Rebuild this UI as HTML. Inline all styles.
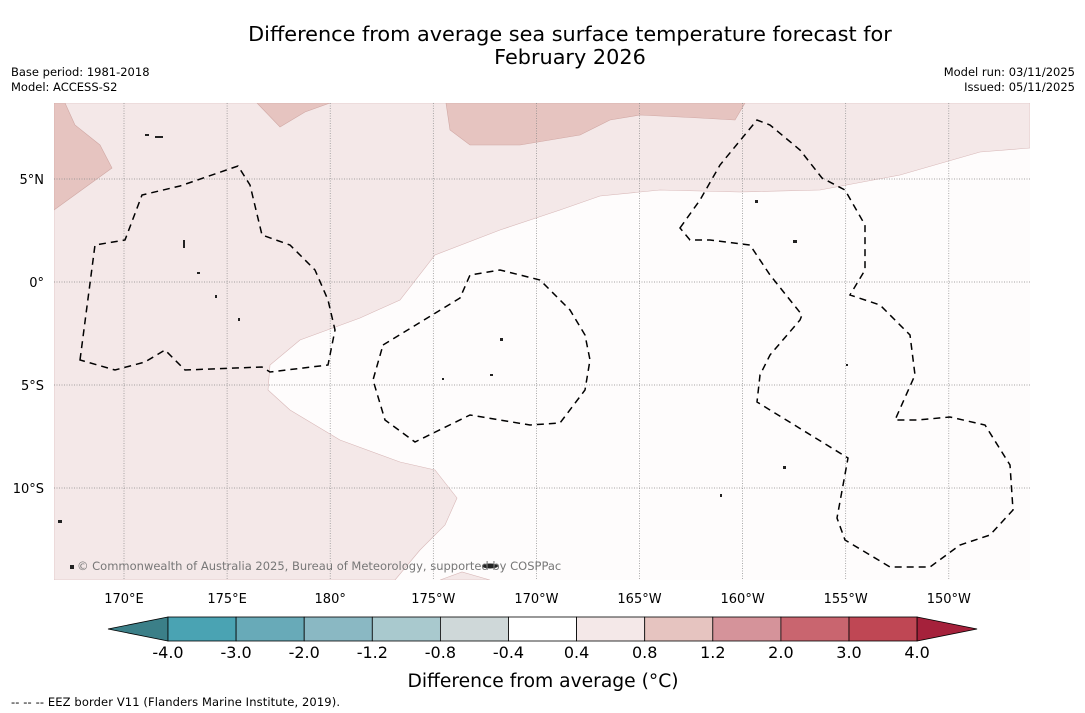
<!DOCTYPE html>
<html><head><meta charset="utf-8">
<style>
body{margin:0;background:#fff;width:1085px;height:713px;overflow:hidden;font-family:"DejaVu Sans","Liberation Sans",sans-serif;}
svg{display:block}
</style></head>
<body>
<svg id="chart" width="1085" height="713" viewBox="0 0 1085 713">
<text x="570" y="41" font-size="20.8" text-anchor="middle">Difference from average sea surface temperature forecast for</text>
<text x="570" y="64" font-size="20.8" text-anchor="middle">February 2026</text>
<text x="11" y="76" font-size="11.5">Base period: 1981-2018</text>
<text x="11" y="91" font-size="11.5">Model: ACCESS-S2</text>
<text x="1075" y="76" font-size="11.5" text-anchor="end">Model run: 03/11/2025</text>
<text x="1075" y="91" font-size="11.5" text-anchor="end">Issued: 05/11/2025</text>
<defs><clipPath id="mapclip"><rect x="54" y="103" width="976" height="477"/></clipPath></defs>
<g id="map" clip-path="url(#mapclip)">
<rect x="54" y="103" width="976" height="477" fill="#fefcfc"/>
<path fill="#f4e8e8" stroke="#d8b8b8" stroke-width="0.6" d="M54,103 L1030,103 L1030,148 L980,152 L900,175 L820,190 L740,192 L660,190 L600,196 L560,210 L500,230 L435,255 L400,300 L360,318 L300,340 L270,365 L268,390 L290,410 L340,440 L400,462 L435,470 L457,498 L445,525 L420,550 L395,580 L54,580 Z"/>
<path fill="#f4e8e8" stroke="#d8b8b8" stroke-width="0.6" d="M440,580 L462,572 L490,580 Z"/>
<path fill="#e6c4c0" stroke="#d0a8a4" stroke-width="0.6" d="M54,103 L65,103 L75,125 L100,145 L112,168 L54,210 Z"/>
<path fill="#e6c4c0" stroke="#d0a8a4" stroke-width="0.6" d="M257,103 L330,103 L305,112 L280,127 Z"/>
<path fill="#e6c4c0" stroke="#d0a8a4" stroke-width="0.6" d="M446,103 L745,103 L735,120 L700,118 L640,115 L610,120 L580,135 L520,145 L470,145 L450,130 Z"/>
<g id="grid"></g>
<g fill="none" stroke="#000" stroke-width="1.5" stroke-dasharray="7,5">
<path d="M80,360 L95,245 L125,240 L142,195 L180,186 L238,166 L250,185 L262,235 L290,245 L315,270 L328,300 L335,330 L328,365 L270,372 L262,367 L185,370 L165,350 L145,362 L115,370 Z"/>
<path d="M383,345 L460,298 L470,275 L500,270 L540,280 L570,310 L585,335 L590,360 L585,390 L560,423 L530,425 L470,415 L415,442 L385,420 L373,380 Z"/>
<path d="M680,228 L700,200 L720,165 L757,120 L770,125 L800,150 L822,178 L845,190 L865,225 L865,270 L850,295 L880,305 L910,335 L915,375 L895,420 L918,420 L950,417 L985,425 L1010,465 L1013,510 L990,535 L960,545 L930,567 L890,567 L845,540 L837,518 L848,458 L757,402 L760,375 L770,355 L800,320 L802,315 L770,275 L750,245 L710,240 L690,240 Z"/>
</g>
<g fill="#222">
<rect x="183" y="240" width="2" height="8"/><rect x="197" y="272" width="3" height="2"/><rect x="215" y="295" width="2" height="3"/><rect x="238" y="318" width="2" height="3"/>
<rect x="500" y="338" width="3" height="3"/><rect x="490" y="374" width="3" height="2"/><rect x="442" y="378" width="2" height="2"/>
<rect x="793" y="240" width="4" height="3"/><rect x="755" y="200" width="3" height="3"/><rect x="783" y="466" width="3" height="3"/>
<ellipse cx="490" cy="566" rx="8" ry="2.5"/><rect x="58" y="520" width="4" height="3"/><rect x="70" y="565" width="4" height="4"/>
<rect x="720" y="494" width="2" height="3"/><rect x="846" y="364" width="2" height="2"/><rect x="145" y="134" width="4" height="2"/><rect x="155" y="136" width="8" height="2"/>
</g>
<text x="77" y="570" font-size="11.5" fill="#777">© Commonwealth of Australia 2025, Bureau of Meteorology, supported by COSPPac</text>
</g>
<g id="axes"></g>
<g id="colorbar"></g>
<text x="543" y="687" font-size="18.7" text-anchor="middle">Difference from average (°C)</text>
<text x="11" y="706" font-size="11.5" textLength="329">-- -- -- EEZ border V11 (Flanders Marine Institute, 2019).</text>
</svg>
<script>
const lonTicks=[170,175,180,185,190,195,200,205,210];
const lonLabels=["170°E","175°E","180°","175°W","170°W","165°W","160°W","155°W","150°W"];
const latTicks=[5,0,-5,-10];
const latLabels=["5°N","0°","5°S","10°S"];
const cbLevels=["-4.0","-3.0","-2.0","-1.2","-0.8","-0.4","0.4","0.8","1.2","2.0","3.0","4.0"];
const cbColors=["#4aa3b3","#68aab8","#8ab8c3","#a9c9ce","#cfd8d9","#ffffff","#f4e8e8","#e6c4c0","#d5939a","#c9656f","#bf4754"];
const NS="http://www.w3.org/2000/svg";
function xOf(lon){return 124+(lon-170)*20.62;}
function yOf(lat){return 282-lat*20.6;}
function mk(t,a,p){const e=document.createElementNS(NS,t);for(const k in a)e.setAttribute(k,a[k]);p.appendChild(e);return e;}
const grid=document.getElementById('grid'),axes=document.getElementById('axes'),cb=document.getElementById('colorbar');
lonTicks.forEach((v,i)=>{const x=xOf(v);
 const l=mk('line',{x1:x,x2:x,y1:103,y2:580,stroke:'#888','stroke-width':0.7,'stroke-dasharray':'1,1.5'},grid);
 
 
 const t=mk('text',{x:x,y:603,'font-size':13,'text-anchor':'middle'},axes);t.textContent=lonLabels[i];
 
 });
latTicks.forEach((v,i)=>{const y=yOf(v);
 const l=mk('line',{x1:54,x2:1030,y1:y,y2:y,stroke:'#888','stroke-width':0.7,'stroke-dasharray':'1,1.5'},grid);
 
 
 const t=mk('text',{x:44,y:y+5,'font-size':13,'text-anchor':'end'},axes);t.textContent=latLabels[i];
 
 });
const x0=168,bw=68.1,y0=617,bh=24;
const lt=mk('polygon',{points:`108,${y0+bh/2} ${x0},${y0} ${x0},${y0+bh}`,fill:'#3b7f88',stroke:'#000','stroke-width':0.8},cb);


cbColors.forEach((c,i)=>{const r=mk('rect',{x:x0+i*bw,y:y0,width:bw,height:bh,fill:c,stroke:'#000','stroke-width':0.8},cb);
 
 });
const xe=x0+cbColors.length*bw;
const rt=mk('polygon',{points:`${xe},${y0} ${xe+60},${y0+bh/2} ${xe},${y0+bh}`,fill:'#a5213b',stroke:'#000','stroke-width':0.8},cb);


cbLevels.forEach((v,i)=>{const t=mk('text',{x:x0+i*bw,y:658,'font-size':16,'text-anchor':'middle'},cb);t.textContent=v;
 
 });
</script>
</body></html>
